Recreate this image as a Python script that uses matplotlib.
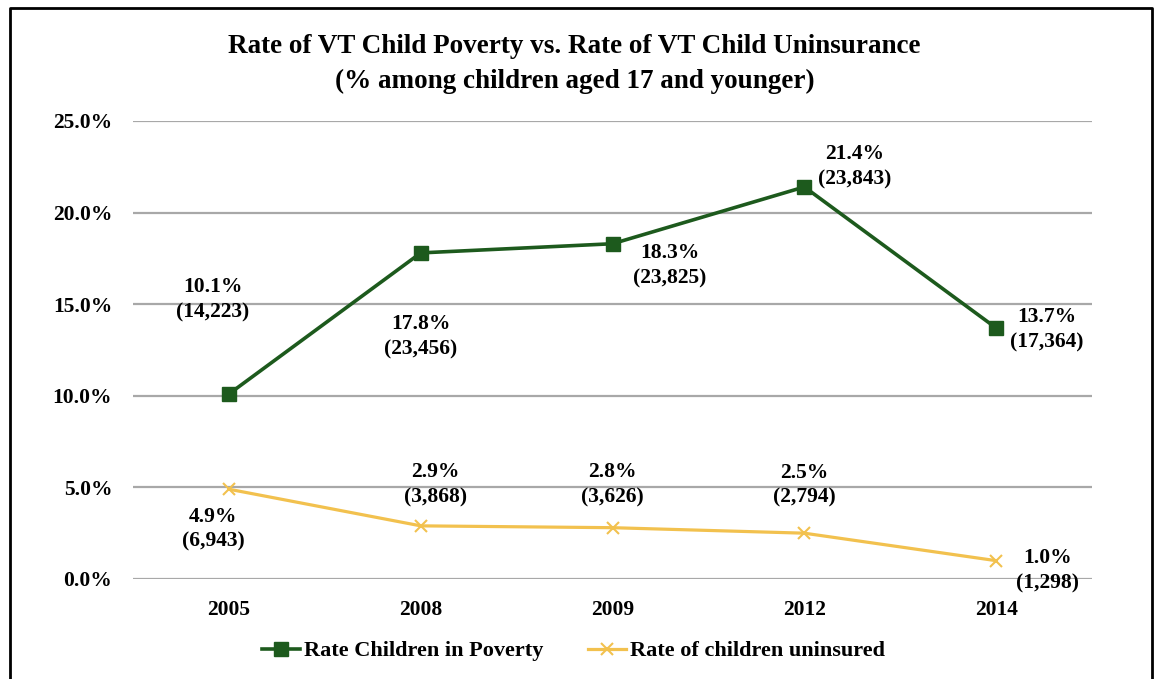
import matplotlib.pyplot as plt
from matplotlib.lines import Line2D

years = ["2005", "2008", "2009", "2012", "2014"]
poverty_rate = [10.1, 17.8, 18.3, 21.4, 13.7]
poverty_count = ["14,223", "23,456", "23,825", "23,843", "17,364"]
uninsured_rate = [4.9, 2.9, 2.8, 2.5, 1.0]
uninsured_count = ["6,943", "3,868", "3,626", "2,794", "1,298"]

plt.rcParams['font.family'] = ['Liberation Serif', 'DejaVu Serif']
plt.rcParams['font.weight'] = 'bold'

green = '#1d5a1d'
yellow = '#f2c14e'

fig = plt.figure(figsize=(11.54, 6.79), dpi=100)
ax = fig.add_axes([0.1153, 0.1473, 0.831, 0.6745])

x = range(len(years))
ax.plot(x, poverty_rate, color=green, lw=2.6, marker='s', ms=10,
        label='Rate Children in Poverty')
ax.plot(x, uninsured_rate, color=yellow, lw=2.3, marker='x', ms=8, mew=1.5,
        label='Rate of children uninsured')

ax.set_xlim(-0.5, len(years) - 0.5)
ax.set_ylim(0, 25)
ax.set_yticks([0, 5, 10, 15, 20, 25])
ax.set_yticklabels([f"{v:.1f}%" for v in [0, 5, 10, 15, 20, 25]])
ax.set_xticks(list(x))
ax.set_xticklabels(years)
ax.tick_params(length=0, labelsize=15.5)
ax.tick_params(axis='y', pad=15)
ax.tick_params(axis='x', pad=15)
ax.grid(axis='y', color='#a8a8a8', lw=1.6)
ax.set_axisbelow(True)
for s in ax.spines.values():
    s.set_visible(False)

# label offsets in pixels (dx, dy of label centre relative to the point)
pov_off = [(-16, 94), (0, -84), (57, -22), (50, 20), (51, -2)]
uni_off = [(-16, -40), (15, 41), (0, 43), (0, 48), (51, -10)]

for i in x:
    ax.annotate(f"{poverty_rate[i]}%\n({poverty_count[i]})", (i, poverty_rate[i]),
                xytext=pov_off[i], textcoords='offset pixels',
                ha='center', va='center', fontsize=15.5, linespacing=1.35)
    ax.annotate(f"{uninsured_rate[i]}%\n({uninsured_count[i]})", (i, uninsured_rate[i]),
                xytext=uni_off[i], textcoords='offset pixels',
                ha='center', va='center', fontsize=15.5, linespacing=1.35)

fig.text(0.498, 0.906, "Rate of VT Child Poverty vs. Rate of VT Child Uninsurance\n"
         "(% among children aged 17 and younger)",
         ha='center', va='center', fontsize=19.5, fontweight='bold', linespacing=1.5)

ax.legend(loc='center', bbox_to_anchor=(0.497, 0.041), bbox_transform=fig.transFigure,
          ncol=2, frameon=False, fontsize=16, handlelength=1.7, handletextpad=0.2,
          columnspacing=2.0)

# black frame around the picture (left, top, right)
fig.add_artist(Line2D([0.009, 0.009, 0.998, 0.998], [0.0, 0.988, 0.988, 0.0],
                      transform=fig.transFigure, color='black', lw=2))

fig.savefig("out.png", dpi=100, facecolor='white')
